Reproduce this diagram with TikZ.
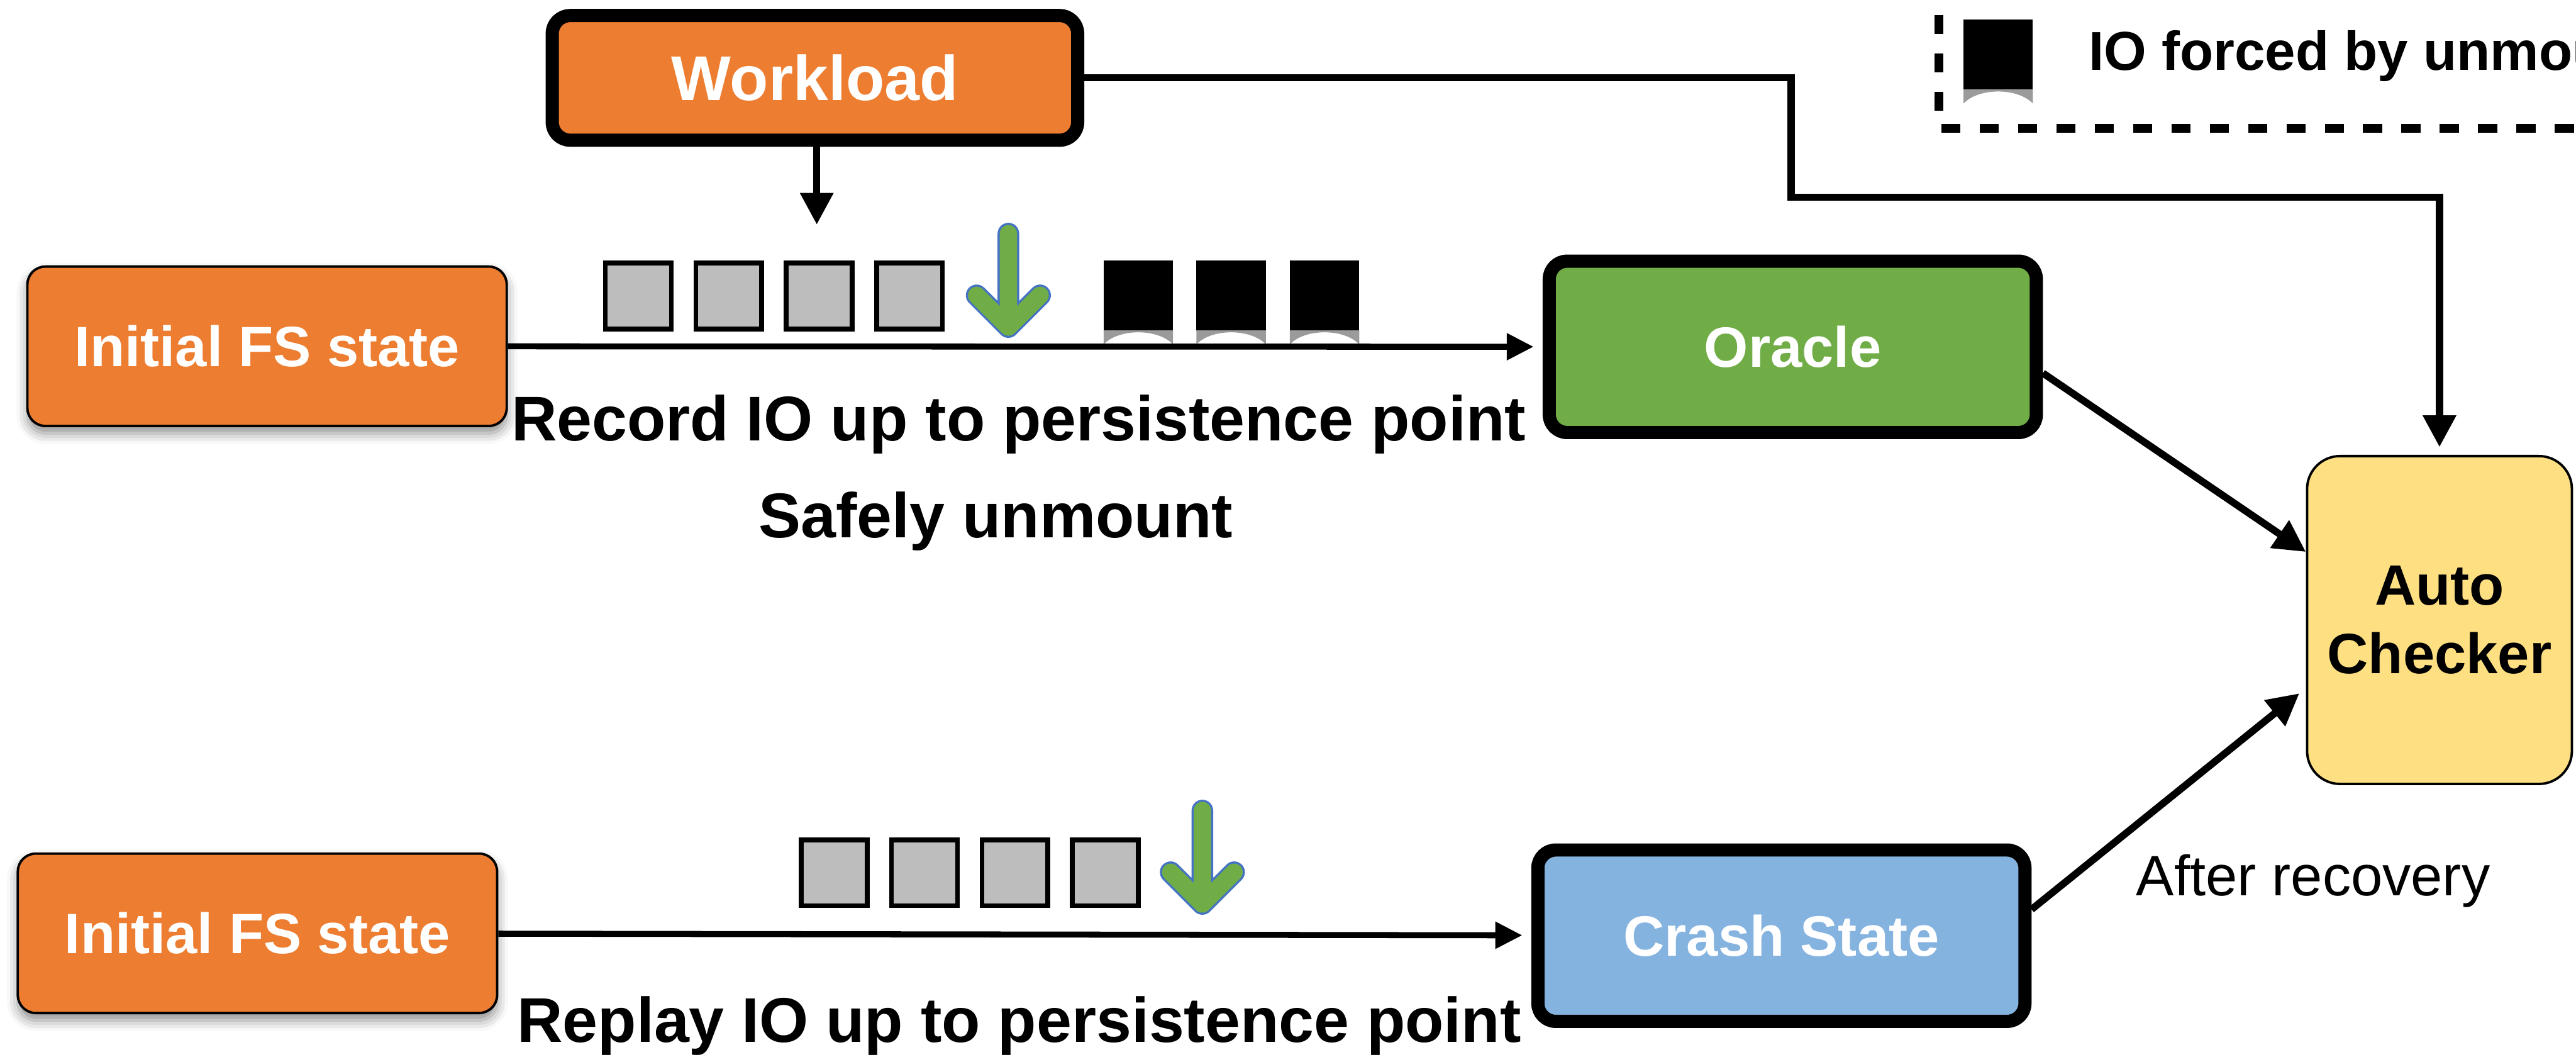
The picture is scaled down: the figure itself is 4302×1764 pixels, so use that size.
\documentclass[tikz,border=0pt]{standalone}
\usepackage{fontspec}
\setmainfont{Liberation Sans}
\usetikzlibrary{arrows.meta,positioning,calc,shadows.blur}

\definecolor{wlorange}{HTML}{ED7D31}
\definecolor{oraclegreen}{HTML}{70AD47}
\definecolor{crashblue}{HTML}{85B3E0}
\definecolor{checkyellow}{HTML}{FEE083}
\definecolor{iogray}{HTML}{BDBDBD}
\definecolor{arrowblue}{HTML}{4472C4}

\tikzset{
  box/.style={rectangle, rounded corners=0.3cm, inner sep=0pt, text=white,
    font=\fontsize{27}{32}\selectfont\bfseries},
  heavybox/.style={box, draw=black, line width=0.22cm, minimum width=8.13cm, minimum height=2.86cm},
  fsbox/.style={box, fill=wlorange, draw=black, line width=0.04cm, minimum width=8.0cm, minimum height=2.66cm,
    blur shadow={shadow xshift=0cm, shadow yshift=-0.12cm, shadow blur radius=0.18cm, shadow opacity=45}},
  iobox/.style={draw=black, fill=iogray, line width=0.08cm, minimum size=1.1cm, inner sep=0pt},
  flow/.style={line width=0.1cm, -{Triangle[length=0.45cm,width=0.43cm]}},
  feed/.style={line width=0.12cm, -{Triangle[length=0.53cm,width=0.53cm]}},
  edgetext/.style={anchor=base, font=\fontsize{30}{36}\selectfont\bfseries},
}

\begin{document}
\begin{tikzpicture}[x=0.01cm, y=-0.01cm]
\useasboundingbox (0,0) rectangle (4302,1764);
\clip (0,0) rectangle (4302,1764);

% Boxes
\node[box, draw=black, line width=0.22cm, fill=wlorange, minimum width=8.77cm, minimum height=2.08cm,
  font=\fontsize{30}{36}\selectfont\bfseries] (workload) at (1361,130) {Workload};
\node[fsbox] (init1) at (446,578) {Initial FS state};
\node[fsbox] (init2) at (430,1558) {Initial FS state};
\node[heavybox, fill=oraclegreen] (oracle) at (2994,579) {Oracle};
\node[heavybox, fill=crashblue] (crash) at (2975,1562) {Crash State};
\node[box, draw=black, line width=0.04cm, fill=checkyellow, text=black, rounded corners=0.55cm,
  minimum width=4.42cm, minimum height=5.47cm, align=center,
  font=\fontsize{27}{32.4}\selectfont\bfseries] (auto) at (4074,1035) {Auto\\Checker};

% IO blocks
\foreach \x [count=\i] in {1066,1217,1368,1519}
  \node[iobox] (rec\i) at (\x,494) {};
\foreach \x [count=\i] in {1393,1544,1695,1846}
  \node[iobox] (rep\i) at (\x,1457) {};

% IO forced by unmount (with curled shadow)
\foreach \x/\y in {1843/435, 1998/435, 2154/435, 3279/33} {
  \fill[black!60, opacity=0.65] (\x,\y+116) -- (\x,\y+140) .. controls ({\x+25},\y+113) and ({\x+91},\y+113) .. ({\x+116},\y+140) -- ({\x+116},\y+116) -- cycle;
  \fill[black] (\x,\y) rectangle ({\x+116},\y+116);
}

% Persistence point arrows
\foreach \x/\y in {1684/372, 2008/1335} {
  \draw[arrowblue, line width=0.36cm, line cap=round, line join=round]
    (\x,\y+18) -- (\x,\y+174) ({\x-53},\y+121) -- (\x,\y+174) -- ({\x+53},\y+121);
  \draw[oraclegreen, line width=0.29cm, line cap=round, line join=round]
    (\x,\y+18) -- (\x,\y+174) ({\x-53},\y+121) -- (\x,\y+174) -- ({\x+53},\y+121);
}

% Connectors
\coordinate (wlhit) at (1364,375);
\coordinate (bend) at (2991,329);
\draw[flow, shorten >=0.15cm] (init1) -- (oracle);
\draw[flow, shorten >=0.15cm] (init2) -- (crash);
\draw[feed] (workload.south -| wlhit) -- (wlhit);
\draw[feed, shorten >=0.13cm] (workload.east) -| (bend) -| (auto.north);
\draw[feed] (oracle.-6) -- (auto.153);
\draw[feed, shorten >=0.14cm] (crash.6) -- (auto.207);

% Labels
\node[edgetext] (record) at (1701,736) {Record IO up to persistence point};
\node[edgetext] (unmount) at (1663,897) {Safely unmount};
\node[edgetext] (replay) at (1702,1740) {Replay IO up to persistence point};
\node[anchor=base, font=\fontsize{27}{32}\selectfont] (recovery) at (3863,1495) {After recovery};

% Legend
\draw[line width=0.15cm, dash pattern=on 0.32cm off 0.32cm] (3238,25) -- (3238,185);
\draw[line width=0.15cm, dash pattern=on 0.32cm off 0.32cm] (3242,214) -- (4302,214);
\node[anchor=base west, font=\fontsize{26}{31}\selectfont\bfseries] (legendtext) at (3476,117) {IO forced by unmount};
\end{tikzpicture}
\end{document}
